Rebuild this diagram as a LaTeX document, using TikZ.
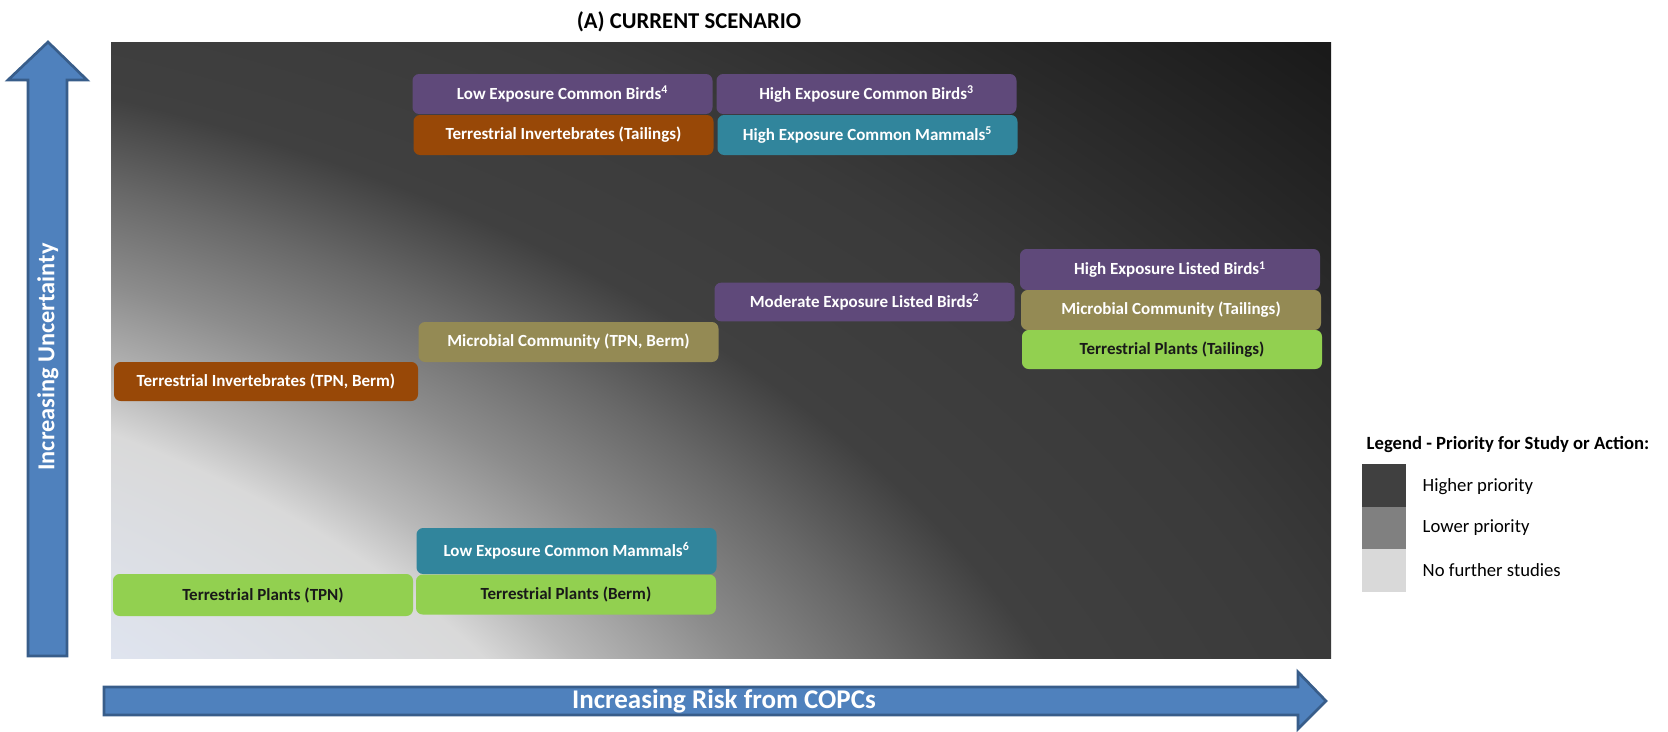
\documentclass[tikz,border=0pt]{standalone}
\usepackage{fontspec}
\setmainfont{Carlito}
\definecolor{bglight}{HTML}{DFE4EF}
\definecolor{bgpale}{HTML}{D9D9D9}
\definecolor{bgsilver}{HTML}{B8B8B8}
\definecolor{bgmid}{HTML}{8C8C8C}
\definecolor{bgslate}{HTML}{686868}
\definecolor{bgdark}{HTML}{404040}
\definecolor{bgdeep}{HTML}{3A3A3A}
\definecolor{bgblack}{HTML}{1A1A1A}
\definecolor{birdpurple}{HTML}{5F497A}
\definecolor{invorange}{HTML}{984807}
\definecolor{mamteal}{HTML}{31859C}
\definecolor{micolive}{HTML}{948A54}
\definecolor{plantgreen}{HTML}{92D050}
\definecolor{arrowfill}{HTML}{4F81BD}
\definecolor{arrowline}{HTML}{385D8A}
\definecolor{prihigh}{HTML}{404040}
\definecolor{prilow}{HTML}{808080}
\definecolor{prinone}{HTML}{D9D9D9}
\pgfdeclareradialshading{panelglow}{\pgfpoint{0bp}{0bp}}{color(0bp)=(bglight); color(8.85bp)=(bglight); color(11.85bp)=(bgpale); color(12.65bp)=(bgsilver); color(14.1bp)=(bgmid); color(15.55bp)=(bgslate); color(17bp)=(bgdark); color(19.75bp)=(bgdeep); color(25bp)=(bgblack); color(50bp)=(bgblack)}
\tikzset{
  riskbox/.style={rounded corners=5pt, minimum width=225pt, minimum height=30pt, inner sep=0pt, text=white, font=\bfseries\fontsize{12.75}{15}\selectfont},
  plantbox/.style={riskbox, fill=plantgreen, text=black!90},
  bigarrow/.style={fill=arrowfill, draw=arrowline, line width=2pt, line join=miter},
  axislabel/.style={text=white, font=\bfseries\fontsize{20.25}{24}\selectfont},
  swatch/.style={minimum width=33pt, minimum height=32pt, inner sep=0pt},
  legtext/.style={anchor=west, font=\fontsize{14}{17}\selectfont}
}
\begin{document}
\begin{tikzpicture}[x=0.75pt,y=-0.75pt]
\useasboundingbox (0,0) rectangle (1668,732);

\begin{scope}
\clip (111,42) rectangle (1331,658);
\shade[shading=panelglow] (-2939,-441.5) rectangle (1941,2490.5);
\end{scope}
\node[font=\bfseries\fontsize{17}{20}\selectfont] (title) at (689,22) {(A) CURRENT SCENARIO};

\filldraw[bigarrow] (48,42) -- (87,80) -- (67,80) -- (67,656) -- (28,656) -- (28,80) -- (8,80) -- cycle;
\filldraw[bigarrow] (1326,701) -- (1298,672) -- (1298,687) -- (104,687) -- (104,715) -- (1298,715) -- (1298,729) -- cycle;
\node[axislabel, rotate=90, font=\bfseries\fontsize{18.25}{22}\selectfont] (uncert) at (48,357) {Increasing Uncertainty};
\node[axislabel] (risk) at (724,701) {Increasing Risk from COPCs};

\node[riskbox, fill=birdpurple] (lowbirds) at (562.5,94) {Low Exposure Common Birds\textsuperscript{4}};
\node[riskbox, fill=invorange] (invtail) at (563.5,135) {Terrestrial Invertebrates (Tailings)};
\node[riskbox, fill=birdpurple] (highbirds) at (866.5,94) {High Exposure Common Birds\textsuperscript{3}};
\node[riskbox, fill=mamteal] (highmam) at (867.5,135) {High Exposure Common Mammals\textsuperscript{5}};
\node[riskbox, fill=birdpurple, minimum height=30.75pt] (listbirds) at (1170,269.5) {High Exposure Listed Birds\textsuperscript{1}};
\node[riskbox, fill=birdpurple, minimum height=29pt] (modbirds) at (864.5,302) {Moderate Exposure Listed Birds\textsuperscript{2}};
\node[riskbox, fill=micolive] (microtail) at (1171,310) {Microbial Community (Tailings)};
\node[plantbox, minimum height=29.25pt] (planttail) at (1172,349.5) {Terrestrial Plants (Tailings)};
\node[riskbox, fill=micolive] (microtpn) at (568.5,342) {Microbial Community (TPN, Berm)};
\node[riskbox, fill=invorange, minimum width=228pt, minimum height=29.25pt] (invtpn) at (266,381.5) {Terrestrial Invertebrates (TPN, Berm)};
\node[riskbox, fill=mamteal, minimum height=34.5pt] (lowmam) at (566.5,551) {Low Exposure Common Mammals\textsuperscript{6}};
\node[plantbox, minimum height=31.5pt] (planttpn) at (263,595) {Terrestrial Plants (TPN)};
\node[plantbox] (plantberm) at (566,594.5) {Terrestrial Plants (Berm)};

\node[anchor=west, font=\bfseries\fontsize{14}{17}\selectfont] (legtitle) at (1362,445) {Legend - Priority for Study or Action:};
\node[swatch, fill=prihigh] (swhigh) at (1384,485.5) {};
\node[swatch, fill=prilow] (swlow) at (1384,528) {};
\node[swatch, fill=prinone] (swnone) at (1384,570.5) {};
\node[legtext] (lghigh) at (1418,487) {Higher priority};
\node[legtext] (lglow) at (1418,528) {Lower priority};
\node[legtext] (lgnone) at (1418,570) {No further studies};

\end{tikzpicture}
\end{document}
